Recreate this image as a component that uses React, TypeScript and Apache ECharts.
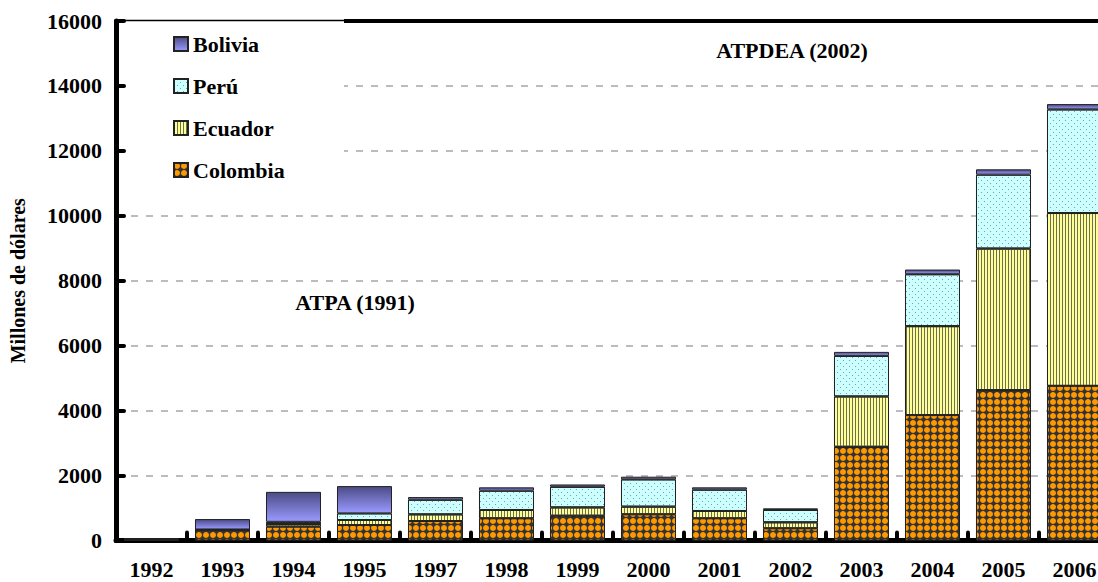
import React, { useEffect, useRef } from "react";
import * as echarts from "echarts";

const years = ["1992", "1993", "1994", "1995", "1997", "1998", "1999", "2000", "2001", "2002", "2003", "2004", "2005", "2006"];
const colombia = [30, 330, 425, 477, 600, 683, 763, 806, 683, 375, 2886, 3862, 4631, 4763];
const ecuador = [5, 5, 80, 154, 205, 256, 256, 236, 226, 185, 1550, 2739, 4360, 5323];
const peru = [10, 5, 70, 205, 450, 595, 635, 841, 656, 380, 1250, 1600, 2277, 3191];
const bolivia = [10, 320, 923, 840, 82, 103, 72, 82, 72, 50, 123, 144, 164, 164];
const legendOrder = ["Bolivia", "Perú", "Ecuador", "Colombia"];
const yTicks = { min: 0, max: 16000, interval: 2000 };

const FONT = "Liberation Serif";

export default function App() {
  const ref = useRef<HTMLDivElement>(null);
  useEffect(() => {
    if (!ref.current) return;
    const chart = echarts.init(ref.current, null, { renderer: "svg" });
    const border = { borderColor: "#222", borderWidth: 1 };
    const option: any = {
      animation: false,
      backgroundColor: "#fff",
      grid: { left: 116, right: -12, top: 21, bottom: 41.5, containLabel: false, outerBoundsMode: "none" },
      legend: {
        data: legendOrder,
        orient: "vertical",
        left: 173,
        top: 33,
        padding: 0,
        itemWidth: 14,
        itemHeight: 14,
        itemGap: 20,
        icon: "rect",
        z: 6,
        textStyle: { fontFamily: FONT, fontWeight: "bold", fontSize: 22, color: "#000", lineHeight: 22 },
      },
      xAxis: {
        type: "category",
        data: years,
        axisLine: { lineStyle: { color: "#000", width: 5 } },
        axisTick: { show: true, inside: true, length: 8, interval: 0, lineStyle: { color: "#000", width: 4, cap: "round" } },
        axisLabel: { interval: 0, margin: 18, fontFamily: FONT, fontWeight: "bold", fontSize: 22, color: "#000" },
      },
      yAxis: {
        type: "value",
        min: yTicks.min,
        max: yTicks.max,
        interval: yTicks.interval,
        name: "Millones de dólares",
        nameLocation: "middle",
        nameGap: 88,
        nameTextStyle: { fontFamily: FONT, fontWeight: "bold", fontSize: 20, color: "#000" },
        axisLine: { show: true, lineStyle: { color: "#000", width: 5 } },
        axisTick: { show: true, inside: true, length: 8, lineStyle: { color: "#000", width: 4, cap: "round" } },
        axisLabel: {
          margin: 14,
          fontFamily: FONT,
          fontWeight: "bold",
          fontSize: 22,
          color: "#000",
          formatter: (v: number) => String(v),
        },
        splitLine: { show: true, lineStyle: { color: "#A6A6A6", width: 1.5, type: [7, 8] } },
      },
      series: [
        {
          name: "Colombia",
          type: "bar",
          stack: "total",
          barCategoryGap: "22.5%",
          data: colombia,
          itemStyle: {
            color: "#333333",
            ...border,
            decal: { symbol: "circle", symbolSize: 1, color: "#FF9900", dashArrayX: [6, 1], dashArrayY: [6, 1], rotation: 0 },
          },
        },
        {
          name: "Ecuador",
          type: "bar",
          stack: "total",
          data: ecuador,
          itemStyle: {
            color: "#FFFF99",
            ...border,
            decal: { symbol: "rect", symbolSize: 1, color: "#6E6E50", dashArrayX: [1, 2], dashArrayY: [4, 0], rotation: 0 },
          },
        },
        {
          name: "Perú",
          type: "bar",
          stack: "total",
          data: peru,
          itemStyle: {
            color: "#CCFFFF",
            ...border,
            decal: { symbol: "rect", symbolSize: 1, color: "#7F9F9F", dashArrayX: [[1, 5], [0, 3, 1, 2]], dashArrayY: [1, 2], rotation: 0 },
          },
        },
        {
          name: "Bolivia",
          type: "bar",
          stack: "total",
          data: bolivia,
          itemStyle: {
            color: new echarts.graphic.LinearGradient(0, 0, 0, 1, [
              { offset: 0, color: "#4B4B86" },
              { offset: 1, color: "#9A9AFF" },
            ]),
            ...border,
          },
        },
      ],
      graphic: [
        { type: "rect", z: 1, shape: { x: 126, y: 12, width: 218, height: 180 }, style: { fill: "#fff" } },
        { type: "line", z: 5, shape: { x1: 116, y1: 20.5, x2: 344, y2: 20.5 }, style: { stroke: "#000", lineWidth: 1.5 } },
        { type: "line", z: 5, shape: { x1: 344, y1: 21, x2: 1098, y2: 21 }, style: { stroke: "#000", lineWidth: 4 } },
        {
          type: "text",
          z: 5,
          x: 792,
          y: 50,
          style: { text: "ATPDEA (2002)", fill: "#000", fontFamily: FONT, fontWeight: "bold", fontSize: 22, textAlign: "center", textVerticalAlign: "middle" },
        },
        {
          type: "text",
          z: 5,
          x: 355,
          y: 302,
          style: { text: "ATPA (1991)", fill: "#000", fontFamily: FONT, fontWeight: "bold", fontSize: 22, textAlign: "center", textVerticalAlign: "middle" },
        },
      ],
    };
    chart.setOption(option);
    return () => chart.dispose();
  }, []);
  return <div ref={ref} style={{ position: "fixed", left: 0, top: 0, width: 1098, height: 582 }} />;
}
